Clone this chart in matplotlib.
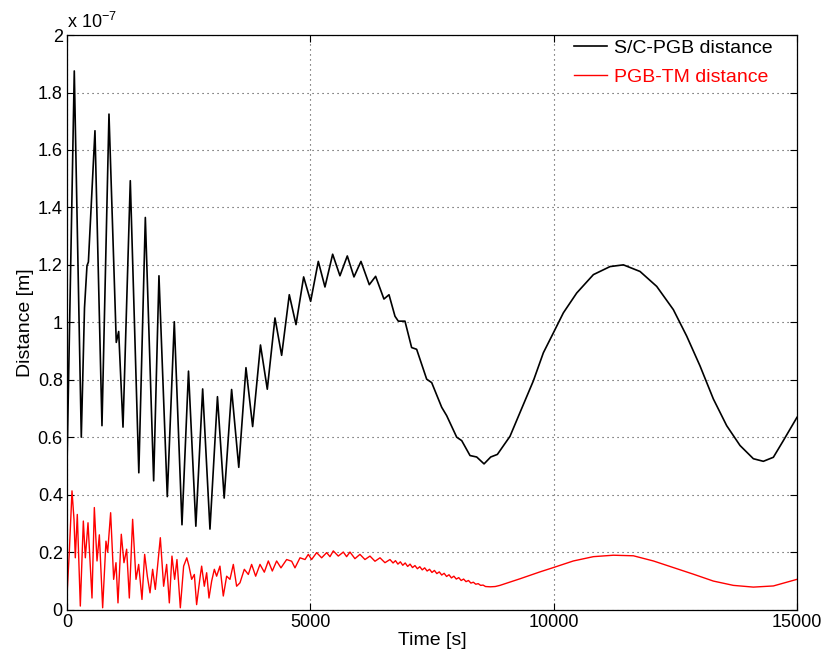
import matplotlib.pyplot as plt

plt.rcParams['font.family'] = ['Liberation Sans', 'DejaVu Sans']
plt.rcParams['mathtext.default'] = 'regular'

# S/C-PGB distance: (time [s], distance in units of 1e-7 m)
sc_points = [(0, 0.50), (150, 1.875), (294, 0.60), (360, 1.05), (411, 1.197), (440, 1.21),
             (575, 1.667), (719, 0.64), (863, 1.725), (1013, 0.93), (1062, 0.968),
             (1151, 0.635), (1301, 1.493), (1476, 0.476), (1610, 1.365), (1781, 0.448),
             (1890, 1.162), (2061, 0.393), (2205, 1.002), (2363, 0.295), (2497, 0.83),
             (2648, 0.29), (2788, 0.768), (2938, 0.28), (3092, 0.741), (3230, 0.388),
             (3383, 0.766), (3530, 0.495), (3678, 0.842), (3815, 0.637), (3976, 0.921),
             (4116, 0.767), (4274, 1.015), (4411, 0.885), (4568, 1.096), (4706, 0.992),
             (4863, 1.158), (5007, 1.073), (5164, 1.212), (5301, 1.123), (5459, 1.237),
             (5609, 1.162), (5760, 1.231), (5897, 1.158), (6041, 1.212), (6212, 1.131),
             (6342, 1.16), (6513, 1.081), (6617, 1.096), (6740, 1.021), (6808, 1.004),
             (6945, 1.004), (7082, 0.912), (7185, 0.906), (7391, 0.802), (7494, 0.79),
             (7700, 0.704), (7802, 0.675), (8008, 0.60), (8111, 0.588), (8282, 0.536),
             (8419, 0.531), (8570, 0.507), (8707, 0.531), (8844, 0.54), (9103, 0.603),
             (9309, 0.686), (9583, 0.796), (9789, 0.894), (9994, 0.963), (10200, 1.033),
             (10474, 1.102), (10817, 1.166), (11159, 1.194), (11433, 1.20), (11775, 1.177),
             (12118, 1.125), (12460, 1.044), (12734, 0.952), (13008, 0.848), (13282, 0.733),
             (13556, 0.64), (13830, 0.571), (14104, 0.525), (14309, 0.516), (14515, 0.53),
             (14720, 0.588), (15000, 0.669)]

# PGB-TM distance: (time [s], distance in units of 1e-7 m)
tm_points = [(0, 0.047), (48, 0.20), (103, 0.413), (144, 0.314), (171, 0.18), (212, 0.331),
             (274, 0.012), (336, 0.308), (377, 0.18), (432, 0.302), (514, 0.04), (562, 0.355),
             (617, 0.169), (665, 0.26), (733, 0.006), (801, 0.238), (836, 0.20), (897, 0.337),
             (959, 0.105), (1007, 0.163), (1048, 0.023), (1116, 0.262), (1171, 0.163),
             (1226, 0.21), (1281, 0.04), (1349, 0.314), (1418, 0.105), (1473, 0.157),
             (1541, 0.035), (1596, 0.192), (1651, 0.116), (1706, 0.058), (1760, 0.14),
             (1815, 0.07), (1918, 0.25), (1986, 0.081), (2048, 0.157), (2103, 0.023),
             (2157, 0.186), (2212, 0.105), (2260, 0.174), (2329, 0.006), (2397, 0.151),
             (2462, 0.18), (2507, 0.151), (2562, 0.105), (2617, 0.122), (2664, 0.017),
             (2733, 0.11), (2767, 0.151), (2822, 0.081), (2870, 0.128), (2918, 0.04),
             (2973, 0.099), (3028, 0.14), (3075, 0.116), (3143, 0.151), (3212, 0.047),
             (3281, 0.116), (3349, 0.105), (3418, 0.157), (3486, 0.081), (3555, 0.093),
             (3644, 0.14), (3726, 0.122), (3794, 0.157), (3877, 0.116), (3966, 0.157),
             (4055, 0.13), (4137, 0.169), (4219, 0.134), (4308, 0.169), (4397, 0.145),
             (4514, 0.174), (4617, 0.168), (4685, 0.145), (4788, 0.18), (4891, 0.174),
             (4959, 0.192), (5027, 0.174), (5130, 0.198), (5233, 0.18), (5336, 0.198),
             (5404, 0.184), (5472, 0.204), (5575, 0.186), (5678, 0.20), (5746, 0.184),
             (5815, 0.20), (5917, 0.177), (6020, 0.192), (6123, 0.174), (6226, 0.186),
             (6329, 0.168), (6432, 0.18), (6534, 0.163), (6637, 0.174), (6700, 0.162),
             (6750, 0.170), (6800, 0.158), (6850, 0.166), (6900, 0.154), (6950, 0.162),
             (7000, 0.150), (7050, 0.158), (7100, 0.146), (7150, 0.153), (7200, 0.142),
             (7250, 0.149), (7300, 0.138), (7350, 0.145), (7400, 0.134), (7450, 0.140),
             (7500, 0.129), (7550, 0.136), (7600, 0.125), (7650, 0.131), (7700, 0.120),
             (7750, 0.126), (7800, 0.115), (7850, 0.121), (7900, 0.110), (7950, 0.116),
             (8000, 0.106), (8050, 0.111), (8100, 0.101), (8150, 0.106), (8200, 0.097),
             (8250, 0.101), (8300, 0.092), (8350, 0.095), (8400, 0.088), (8450, 0.090),
             (8500, 0.084), (8550, 0.085), (8600, 0.080), (8700, 0.079), (8800, 0.080),
             (8897, 0.084), (9309, 0.107), (9720, 0.131), (9994, 0.146), (10405, 0.169),
             (10817, 0.184), (11228, 0.189), (11639, 0.187), (12050, 0.169), (12460, 0.146),
             (12871, 0.123), (13282, 0.099), (13693, 0.084), (14104, 0.078), (14515, 0.082),
             (15000, 0.105)]

sc_t = [p[0] for p in sc_points]
sc_d = [p[1] for p in sc_points]
tm_t = [p[0] for p in tm_points]
tm_d = [p[1] for p in tm_points]

y_ticks = [0, 0.2, 0.4, 0.6, 0.8, 1, 1.2, 1.4, 1.6, 1.8, 2]
y_labels = ['0', '0.2', '0.4', '0.6', '0.8', '1', '1.2', '1.4', '1.6', '1.8', '2']
x_ticks = [0, 5000, 10000, 15000]

fig = plt.figure(figsize=(8.3, 6.62), dpi=100)
ax = fig.add_axes([0.0807, 0.0793, 0.8795, 0.8677])

ax.plot(sc_t, sc_d, color='black', lw=1.2, label='S/C-PGB distance',
        solid_joinstyle='round')
ax.plot(tm_t, tm_d, color='red', lw=1.0, label='PGB-TM distance',
        solid_joinstyle='round')

ax.set_xlim(0, 15000)
ax.set_ylim(0, 2)
ax.set_xticks(x_ticks)
ax.set_xticklabels([str(v) for v in x_ticks])
ax.set_yticks(y_ticks)
ax.set_yticklabels(y_labels)
ax.tick_params(direction='in', top=True, right=True, labelsize=13, length=5,
               width=0.8, pad=3)
ax.grid(True, linestyle=(0, (1, 3.5)), color='0.25', lw=0.8)
for s in ax.spines.values():
    s.set_linewidth(0.9)

ax.set_xlabel('Time [s]', fontsize=14, labelpad=1)
ax.set_ylabel('Distance [m]', fontsize=14, labelpad=3)
ax.text(0.0, 1.006, r'x 10$^{-7}$', transform=ax.transAxes, fontsize=13,
        ha='left', va='bottom')

leg = ax.legend(loc='upper right', bbox_to_anchor=(0.966, 0.992), frameon=False,
                fontsize=14, handlelength=1.65, labelspacing=0.56, borderaxespad=0,
                borderpad=0, handletextpad=0.36, labelcolor='linecolor')

fig.savefig('out.png', dpi=100)
